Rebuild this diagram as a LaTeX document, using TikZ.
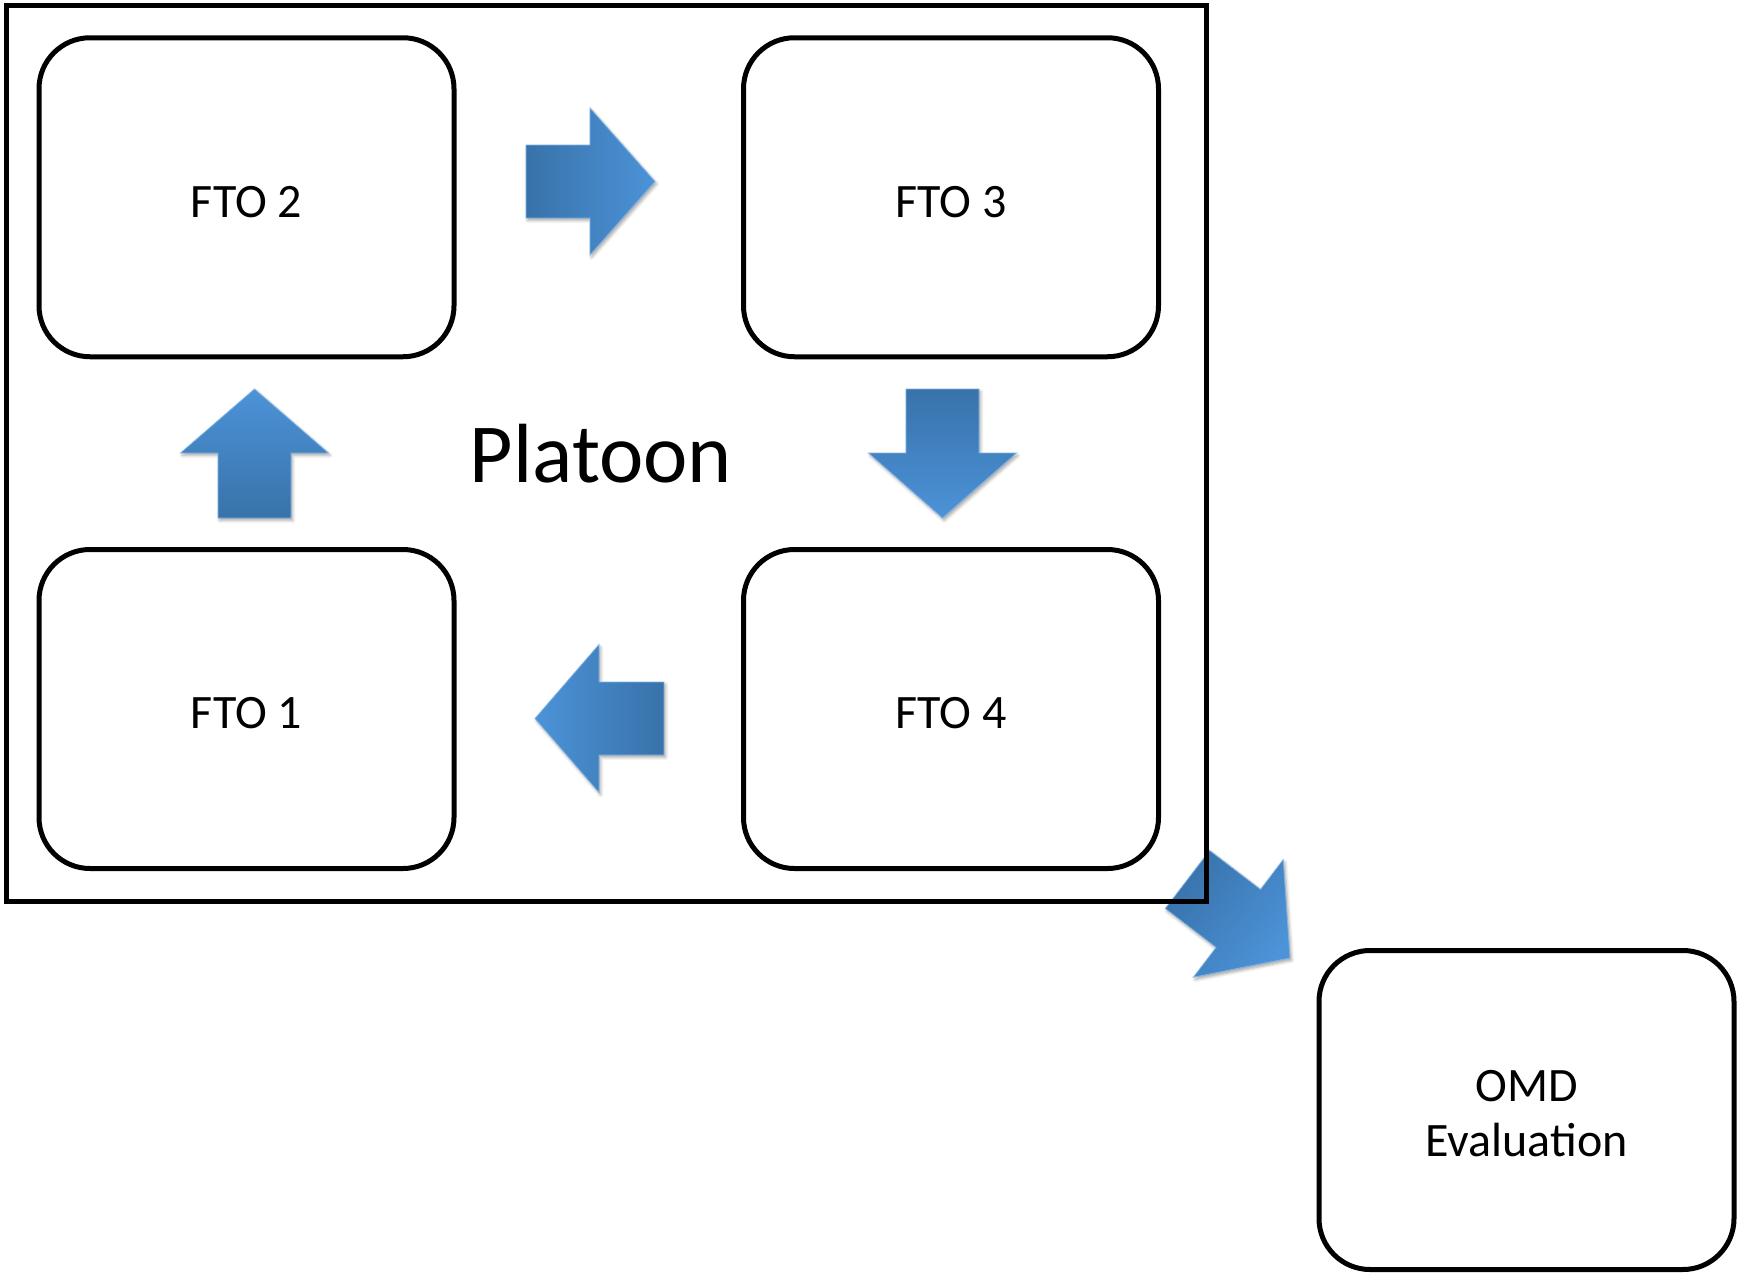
\documentclass[tikz,border=0pt]{standalone}
\usepackage{fontspec}
\setmainfont{Carlito}
\usetikzlibrary{shadows.blur}
\definecolor{arrowdark}{RGB}{56,114,170}
\definecolor{arrowlight}{RGB}{76,147,216}
\begin{document}
\begin{tikzpicture}[x=0.5pt,y=-0.5pt,
  box/.style={draw=black, line width=2.5pt, rounded corners=25.5pt,
    minimum width=207.5pt, minimum height=159.5pt, inner sep=0pt, outer sep=0pt,
    font=\fontsize{24pt}{27.5pt}\selectfont},
  ftobox/.style={box, text height=20pt},
  frame/.style={draw=black, line width=2.5pt, minimum width=600pt,
    minimum height=447.75pt, inner sep=0pt, outer sep=0pt},
  blockarrow/.style={draw=arrowlight!70!white, line width=0.4pt, line join=miter,
    blur shadow={shadow xshift=0.8pt, shadow yshift=-1.2pt,
      shadow blur radius=1.5pt, shadow opacity=35}},
]
\useasboundingbox (0,0) rectangle (1737,1275);

% arrow leaving the platoon (drawn below the frame)
\path[blockarrow, top color=arrowdark, bottom color=arrowlight, shading angle=52.6]
  (1209.7,850.5) -- (1260.5,889.4) -- (1283.2,859.6) -- (1290,958)
  -- (1193.4,977.2) -- (1216.1,947.4) -- (1165.3,908.5) -- cycle;

% platoon frame
\node[frame] (platoonframe) at (606,453.25) {};

% boxes
\node[ftobox] (fto2) at (246.5,197.25) {FTO 2};
\node[ftobox] (fto3) at (951,197.25) {FTO 3};
\node[ftobox] (fto1) at (246.5,709) {FTO 1};
\node[ftobox] (fto4) at (951,709) {FTO 4};
\node[box, align=center] (omd) at (1526.5,1110) {\rule{0pt}{19pt}OMD\\Evaluation};

% block arrows of the cycle
% FTO 2 -> FTO 3
\path[blockarrow, left color=arrowdark, right color=arrowlight]
  (526,145) -- (590,145) -- (590,108) -- (655,181.5) -- (590,255)
  -- (590,218) -- (526,218) -- cycle;
% FTO 3 -> FTO 4
\path[blockarrow, top color=arrowdark, bottom color=arrowlight]
  (906,389) -- (979,389) -- (979,453) -- (1016.5,453) -- (942.5,518)
  -- (868.5,453) -- (906,453) -- cycle;
% FTO 4 -> FTO 1
\path[blockarrow, left color=arrowlight, right color=arrowdark]
  (664,682) -- (664,755) -- (599,755) -- (599,792.5) -- (535,718.5)
  -- (599,644.5) -- (599,682) -- cycle;
% FTO 1 -> FTO 2
\path[blockarrow, top color=arrowlight, bottom color=arrowdark]
  (218,518) -- (291,518) -- (291,453) -- (328.5,453) -- (254.5,389)
  -- (180.5,453) -- (218,453) -- cycle;

% title
\node[font=\fontsize{42pt}{50pt}\selectfont, anchor=base, inner sep=0pt] (platoon)
  at (601,482.5) {Platoon};
\end{tikzpicture}
\end{document}
